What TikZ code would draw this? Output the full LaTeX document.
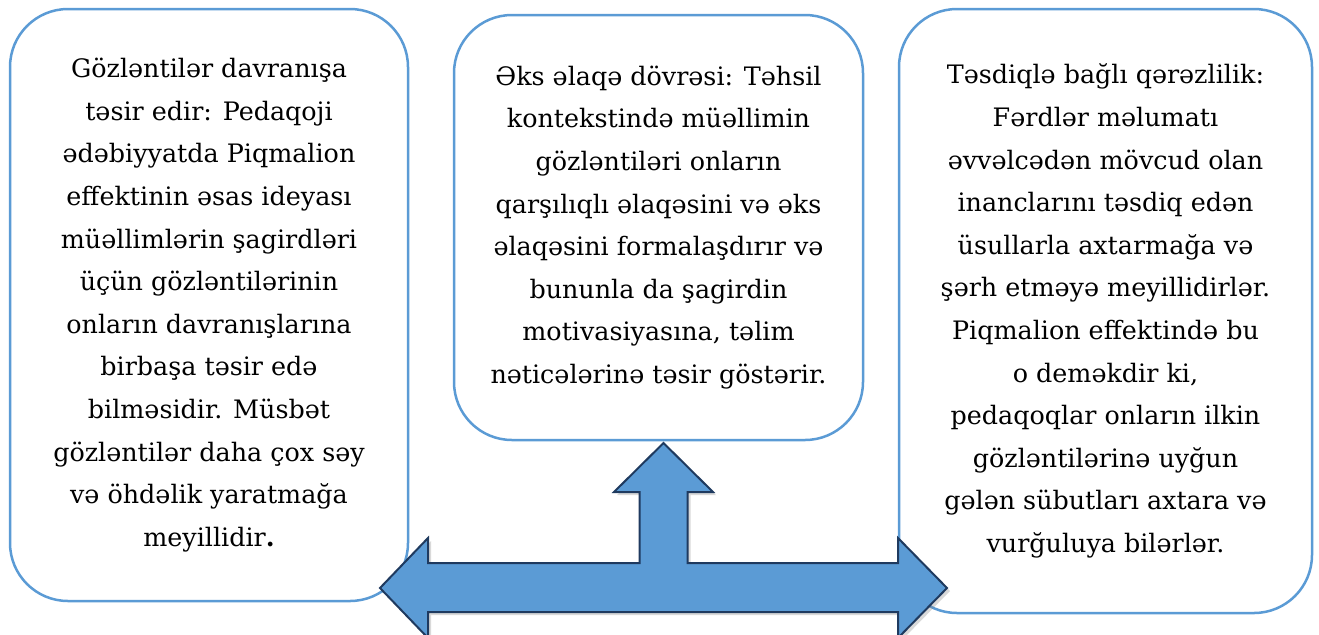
\documentclass[tikz,border=0pt]{standalone}
\usepackage{fontspec}
\setmainfont{DejaVu Serif}
\usetikzlibrary{shadows}
\definecolor{boxblue}{HTML}{5B9BD5}
\definecolor{arrowline}{HTML}{1F3A5F}

\begin{document}
\begin{tikzpicture}
	[x=0.5pt,y=-0.5pt,
		base node/.style={draw=boxblue,line width=1.25pt,rounded corners=29pt,fill=white,align=center,inner sep=0pt,font=\fontsize{12.7}{21.3}\selectfont},
		big arrow/.style={draw=arrowline,line width=1pt,fill=boxblue,line join=miter,drop shadow={opacity=0.3,shadow xshift=1.5pt,shadow yshift=-1.5pt}}]

	\useasboundingbox (0,0) rectangle (1319,634);

	\node[base node,minimum width=199pt,minimum height=296pt] (left) at (209,305)
	{Gözləntilər davranışa\\ təsir edir: Pedaqoji\\ ədəbiyyatda Piqmalion\\ effektinin əsas ideyası\\
		müəllimlərin şagirdləri\\ üçün gözləntilərinin\\ onların davranışlarına\\ birbaşa təsir edə\\
		bilməsidir. Müsbət\\ gözləntilər daha çox səy\\ və öhdəlik yaratmağa\\ meyillidir\textbf{.}};
	\node[base node,minimum width=204.5pt,minimum height=212.5pt] (mid) at (658.5,227.5)
	{Əks əlaqə dövrəsi: Təhsil\\ kontekstində müəllimin\\ gözləntiləri onların\\ qarşılıqlı əlaqəsini və əks\\
		əlaqəsini formalaşdırır və\\ bununla da şagirdin\\ motivasiyasına, təlim\\ nəticələrinə təsir göstərir.};
	\node[base node,minimum width=206.5pt,minimum height=302pt] (right) at (1105.5,311)
	{Təsdiqlə bağlı qərəzlilik:\\ Fərdlər məlumatı\\ əvvəlcədən mövcud olan\\ inanclarını təsdiq edən\\
		üsullarla axtarmağa və\\ şərh etməyə meyillidirlər.\\ Piqmalion effektində bu\\ o deməkdir ki,\\
		pedaqoqlar onların ilkin\\ gözləntilərinə uyğun\\ gələn sübutları axtara və\\ vurğuluya bilərlər.};

	\draw[big arrow] (380,588) -- (428,538) -- (428,563) -- (639.5,563) -- (639.5,492) -- (614,492)
	-- (663.5,443) -- (713,492) -- (687.5,492) -- (687.5,563) -- (898,563) -- (898,538)
	-- (947,588) -- (898,638) -- (898,612) -- (428,612) -- (428,638) -- cycle;
\end{tikzpicture}
\end{document}
